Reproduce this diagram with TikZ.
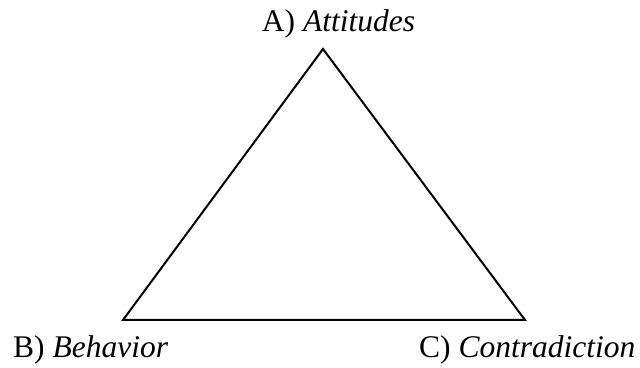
\documentclass[tikz,border=0pt]{standalone}
\usepackage{fontspec}
\setmainfont{Liberation Serif}[ItalicFont={Liberation Serif Italic}]
\usepackage{tikz}
\usetikzlibrary{positioning,calc}
\tikzset{
  lbl/.style={inner sep=0pt,font=\fontsize{31.5}{36}\selectfont},
  edge/.style={line width=2pt,line join=miter},
}

\begin{document}
\begin{tikzpicture}[x=1pt,y=1pt]
\useasboundingbox (0,0) rectangle (640,367);
% corners of the triangle
\coordinate (att) at (323,318);
\coordinate (beh) at (123,47);
\coordinate (con) at (525,47);
\draw[edge] (att) -- (beh) -- (con) -- cycle;
\node[lbl,anchor=base] (latt) at (338.5,335) {A) \textit{Attitudes}};
\node[lbl,anchor=base west] (lbeh) at (13,10) {B) \textit{Behavior}};
\node[lbl,anchor=base west] (lcon) at (419,10) {C) \textit{Contradiction}};
\end{tikzpicture}
\end{document}
